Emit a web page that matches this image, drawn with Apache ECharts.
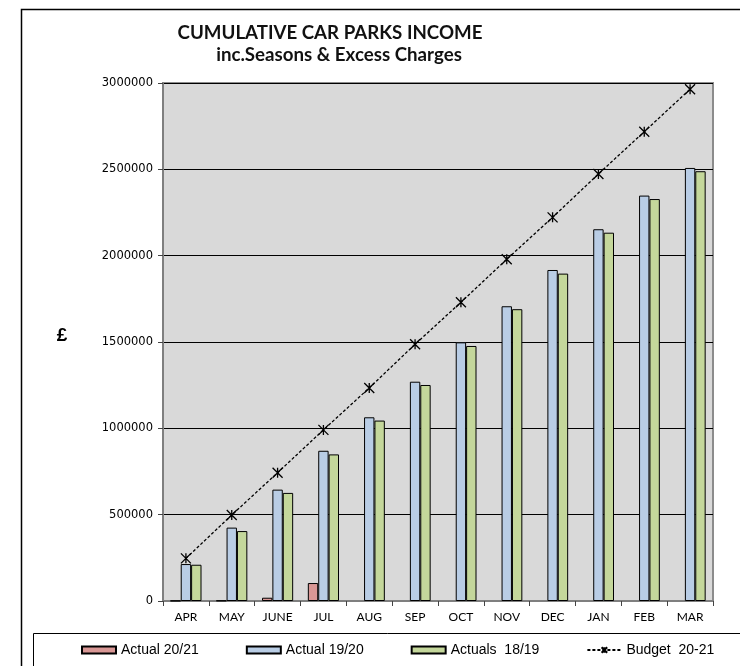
<!DOCTYPE html>
<html>
<head>
<meta charset="utf-8">
<script src="https://cdn.jsdelivr.net/npm/echarts@6/dist/echarts.min.js"></script>
<style>
html, body { margin: 0; padding: 0; background: #fff; }
#chart { width: 740px; height: 666px; }
</style>
</head>
<body>
<div id="chart"></div>
<script>
// months of the financial year
const months = ['APR', 'MAY', 'JUNE', 'JUL', 'AUG', 'SEP', 'OCT', 'NOV', 'DEC', 'JAN', 'FEB', 'MAR'];

// cumulative income
const actual2021 = [1500, 2500, 19000, 104000, null, null, null, null, null, null, null, null];
const actual1920 = [214000, 425000, 645000, 870000, 1064000, 1270000, 1498000, 1707000, 1917000, 2153000, 2348000, 2508000];
const actuals1819 = [210000, 405000, 626000, 849000, 1045000, 1251000, 1477000, 1690000, 1896000, 2133000, 2328000, 2489000];
const budget2021 = [247000, 498000, 743000, 991000, 1234000, 1487000, 1730000, 1979000, 2222000, 2473000, 2718000, 2964000];

const myChart = echarts.init(document.getElementById('chart'));

// bar series share the same look
const barStyle = (color) => ({
    color: color,
    borderColor: '#000',
    borderWidth: 1
});

const titleFont = { fontFamily: 'Lato', fontWeight: 'bold', fontSize: 18.7, color: '#111' };

const option = {
    animation: false,
    backgroundColor: '#fff',
    title: [
        { text: 'CUMULATIVE CAR PARKS INCOME', left: 325, top: 18, textAlign: 'center', textStyle: titleFont },
        { text: 'inc.Seasons & Excess Charges', left: 334, top: 40, textAlign: 'center', textStyle: titleFont }
    ],
    // outer frame, legend box and the £ label
    graphic: [
        {
            type: 'rect',
            shape: { x: 21.5, y: 9.5, width: 740, height: 700 },
            style: { fill: 'none', stroke: '#000', lineWidth: 1.5 },
            z: -1
        },
        {
            type: 'rect',
            shape: { x: 33.5, y: 633.5, width: 720, height: 60 },
            style: { fill: '#fff', stroke: '#000', lineWidth: 1 },
            z: 0
        },
        {
            type: 'text',
            x: 62,
            y: 336,
            style: {
                text: '£',
                textAlign: 'center',
                textVerticalAlign: 'middle',
                font: 'bold 19px "Liberation Sans"',
                fill: '#000'
            }
        }
    ],
    legend: {
        left: 81,
        top: 643,
        padding: 0,
        itemGap: 47,
        itemWidth: 34,
        itemHeight: 7,
        z: 5,
        textStyle: { fontFamily: 'Liberation Sans', fontSize: 14, color: '#000' },
        data: [
            { name: 'Actual 20/21', icon: 'rect' },
            { name: 'Actual 19/20', icon: 'rect' },
            { name: 'Actuals  18/19', icon: 'rect' },
            { name: 'Budget  20-21' }
        ]
    },
    grid: {
        left: 163,
        right: 27,
        top: 83,
        bottom: 65,
        show: true,
        backgroundColor: '#d9d9d9',
        borderColor: '#8c8c8c',
        borderWidth: 2
    },
    xAxis: {
        type: 'category',
        data: months,
        axisLine: { lineStyle: { color: '#7f7f7f', width: 2 } },
        axisTick: { show: true, length: 5, interval: 0, lineStyle: { color: '#444' } },
        axisLabel: { margin: 10, fontFamily: 'Lato', fontSize: 12, color: '#000', interval: 0 }
    },
    yAxis: {
        type: 'value',
        min: 0,
        max: 3000000,
        interval: 500000,
        axisLine: { show: true, lineStyle: { color: '#7f7f7f', width: 2 } },
        axisTick: { show: true, length: 5, lineStyle: { color: '#444' } },
        axisLabel: {
            margin: 10,
            fontFamily: 'DejaVu Sans',
            fontSize: 11.5,
            color: '#000',
            formatter: (v) => String(v)
        },
        splitLine: { lineStyle: { color: '#000', width: 1 } }
    },
    series: [
        {
            name: 'Actual 20/21',
            type: 'bar',
            data: actual2021,
            barGap: '0%',
            barCategoryGap: '32%',
            itemStyle: barStyle('#d99795')
        },
        {
            name: 'Actual 19/20',
            type: 'bar',
            data: actual1920,
            itemStyle: barStyle('#b9cde5')
        },
        {
            name: 'Actuals  18/19',
            type: 'bar',
            data: actuals1819,
            itemStyle: barStyle('#c4d79b')
        },
        {
            name: 'Budget  20-21',
            type: 'line',
            data: budget2021,
            symbol: 'path://M0,0L10,10M10,0L0,10M5,0L5,10',
            symbolSize: 10,
            lineStyle: { color: '#000', width: 1.3, type: [3, 2] },
            itemStyle: { color: '#000', borderColor: '#000', borderWidth: 1.3 },
            z: 3
        }
    ]
};

myChart.setOption(option);
</script>
</body>
</html>
